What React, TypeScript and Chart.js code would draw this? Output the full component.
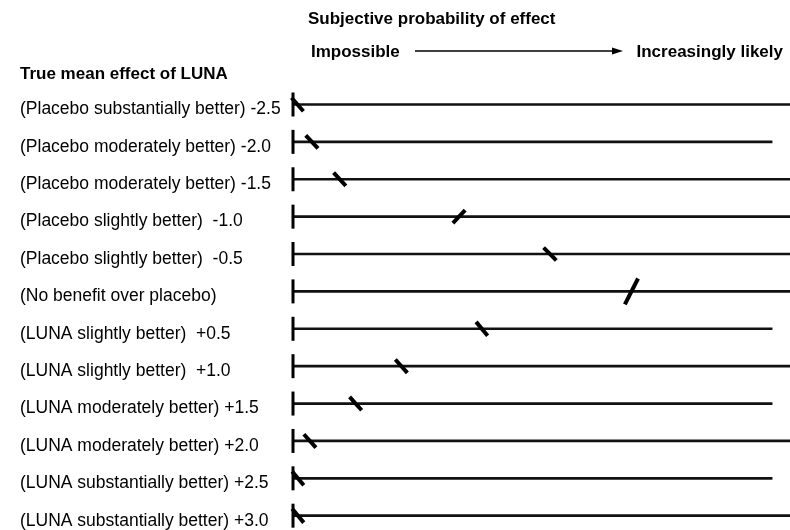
import React, { useEffect, useRef } from "react";
import { Chart, registerables } from "chart.js";

Chart.register(...registerables);

// ---- data ----
const rowLabels: string[] = [
  "(Placebo substantially better) -2.5",
  "(Placebo moderately better) -2.0",
  "(Placebo moderately better) -1.5",
  "(Placebo slightly better)  -1.0",
  "(Placebo slightly better)  -0.5",
  "(No benefit over placebo)",
  "(LUNA slightly better)  +0.5",
  "(LUNA slightly better)  +1.0",
  "(LUNA moderately better) +1.5",
  "(LUNA moderately better) +2.0",
  "(LUNA substantially better) +2.5",
  "(LUNA substantially better) +3.0",
];
// position of the respondent's mark on each 0-100 scale
const markValues: number[] = [0.9, 3.8, 9.4, 33.4, 51.7, 68.1, 38.0, 21.8, 12.6, 3.4, 1.0, 1.0];
// tilt of each hand-drawn mark (degrees)
const markAngles: number[] = [49, 47, 47, -47, 45, -63, 50, 48, 48, 48, 50, 50];
// length of each hand-drawn line
const lineEnds: number[] = [100, 96.4, 100, 100, 100, 100, 96.4, 100, 96.4, 100, 96.4, 100];
const scaleStart: number[] = rowLabels.map(() => 0);

const headerTitle = "Subjective probability of effect";
const leftAnchor = "Impossible";
const rightAnchor = "Increasingly likely";
const rowTitle = "True mean effect of LUNA";

const FONT = "'Liberation Sans', Arial, Helvetica, sans-serif";

const headerPlugin = {
  id: "headerText",
  afterDraw(chart: any) {
    const ctx = chart.ctx as CanvasRenderingContext2D;
    ctx.save();
    ctx.fillStyle = "#000";
    ctx.strokeStyle = "#000";
    ctx.font = `bold 17px ${FONT}`;
    ctx.textBaseline = "alphabetic";
    ctx.textAlign = "left";
    ctx.fillText(headerTitle, 308, 24);
    ctx.fillText(leftAnchor, 311, 57);
    ctx.fillText(rightAnchor, 636.5, 57);
    ctx.fillText(rowTitle, 20, 79);
    // arrow
    ctx.lineWidth = 1.3;
    ctx.beginPath();
    ctx.moveTo(415, 51);
    ctx.lineTo(614, 51);
    ctx.stroke();
    ctx.beginPath();
    ctx.moveTo(623, 51);
    ctx.lineTo(612, 47.5);
    ctx.lineTo(612, 54.5);
    ctx.closePath();
    ctx.fill();
    ctx.restore();
  },
};

function ScaleChart() {
  const ref = useRef<HTMLCanvasElement | null>(null);
  useEffect(() => {
    if (!ref.current) return;
    const chart = new Chart(ref.current, {
      type: "bar",
      data: {
        labels: rowLabels,
        datasets: [
          {
            type: "bar",
            indexAxis: "y",
            data: lineEnds.map((e) => [0, e]) as any,
            backgroundColor: "#111",
            borderWidth: 0,
            barThickness: 2,
            clip: false,
            order: 3,
          } as any,
          {
            type: "line",
            indexAxis: "y",
            data: scaleStart,
            showLine: false,
            pointStyle: "line",
            pointRotation: 90,
            pointRadius: 12,
            pointBorderWidth: 3,
            pointBorderColor: "#000",
            borderColor: "#000",
            clip: false,
            order: 2,
          } as any,
          {
            type: "line",
            indexAxis: "y",
            data: markValues,
            showLine: false,
            pointStyle: "line",
            pointRotation: markAngles,
            pointRadius: markAngles.map((a) => (Math.abs(a) > 55 ? 14.5 : 9)),
            pointBorderWidth: 4,
            pointBorderColor: "#000",
            borderColor: "#000",
            clip: false,
            order: 1,
          } as any,
        ],
      },
      options: {
        indexAxis: "y",
        responsive: false,
        animation: false,
        devicePixelRatio: 1,
        layout: { autoPadding: false, padding: { left: 20, right: 0, top: 104.5, bottom: 14.3 } },
        plugins: {
          legend: { display: false },
          tooltip: { enabled: false },
          title: { display: false },
        },
        scales: {
          x: {
            type: "linear",
            min: 0,
            max: 100,
            display: false,
          },
          y: {
            type: "category",
            offset: false,
            grid: { display: false },
            border: { display: false },
            ticks: {
              crossAlign: "far",
              color: "#000",
              padding: 0,
              labelOffset: 5,
              autoSkip: false,
              font: { family: FONT, size: 17.5 },
            },
            afterFit: (s: any) => {
              s.width = 273;
            },
          },
        },
      } as any,
      plugins: [headerPlugin],
    });
    return () => chart.destroy();
  }, []);
  return <canvas ref={ref} width={790} height={530} style={{ display: "block" }} />;
}

export default function App() {
  return (
    <div style={{ position: "absolute", left: 0, top: 0, width: 790, height: 530, background: "#fff" }}>
      <ScaleChart />
    </div>
  );
}
